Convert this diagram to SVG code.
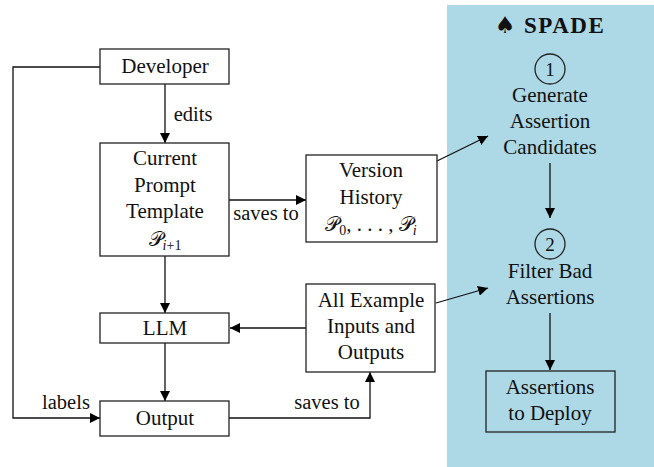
<svg xmlns="http://www.w3.org/2000/svg" width="654" height="467" viewBox="0 0 654 467">
<defs>
<marker id="ah" viewBox="0 0 10 10" refX="10" refY="5" markerWidth="10" markerHeight="10" markerUnits="userSpaceOnUse" orient="auto">
<path d="M0,0 L10,5 L0,10 z" fill="#000"/>
</marker>
<style>
text{font-family:"Liberation Serif","DejaVu Serif",serif;font-size:21px;fill:#111;text-anchor:middle}
.lbl{font-size:20.5px}
.box{fill:#fff;stroke:#222;stroke-width:1.3}
.box2{fill:none;stroke:#222;stroke-width:1.3}
.c{fill:none;stroke:#111;stroke-width:1.3}
.m{font-family:"DejaVu Serif","DejaVu Sans",serif;font-style:normal;font-size:20px}
.sub{font-size:14px;font-style:italic}
</style>
</defs>
<rect x="447" y="5" width="207" height="462" fill="#add8e6"/>
<g id="connectors">
<path class="c" d="M100,67 H13 V418 H100" marker-end="url(#ah)"/>
<path class="c" d="M165,84 V143" marker-end="url(#ah)"/>
<path class="c" d="M165,256 V313" marker-end="url(#ah)"/>
<path class="c" d="M165,343 V401" marker-end="url(#ah)"/>
<path class="c" d="M229,200 H306" marker-end="url(#ah)"/>
<path class="c" d="M306,328 H230" marker-end="url(#ah)"/>
<path class="c" d="M229,418 H370 V372" marker-end="url(#ah)"/>
<path class="c" d="M437,161 L488,136" marker-end="url(#ah)"/>
<path class="c" d="M436,303 L488,288" marker-end="url(#ah)"/>
<path class="c" d="M550,163 V218" marker-end="url(#ah)"/>
<path class="c" d="M550,313 V370" marker-end="url(#ah)"/>
<text class="lbl" x="193" y="121">edits</text>
<text class="lbl" x="266" y="220">saves to</text>
<text class="lbl" x="66" y="409">labels</text>
<text class="lbl" x="327" y="409">saves to</text>
</g>
<g id="developer">
<rect class="box" x="100" y="49" width="129" height="35"/>
<text x="165" y="73">Developer</text>
</g>
<g id="current-prompt">
<rect class="box" x="100" y="143" width="129" height="113"/>
<text x="165" y="165">Current</text>
<text x="165" y="192">Prompt</text>
<text x="165" y="218">Template</text>
<text x="165" y="246"><tspan class="m">𝒫</tspan><tspan class="sub" dy="4">i</tspan><tspan class="sub" style="font-style:normal">+1</tspan></text>
</g>
<g id="version-history">
<rect class="box" x="306" y="155" width="131" height="87"/>
<text x="371" y="177">Version</text>
<text x="371" y="204">History</text>
<text x="371" y="231"><tspan class="m">𝒫</tspan><tspan class="sub" style="font-style:normal" dy="4">0</tspan><tspan dy="-4">, . . . , </tspan><tspan class="m">𝒫</tspan><tspan class="sub" dy="4">i</tspan></text>
</g>
<g id="llm">
<rect class="box" x="100" y="313" width="129" height="30"/>
<text x="165" y="335">LLM</text>
</g>
<g id="output">
<rect class="box" x="100" y="401" width="129" height="35"/>
<text x="165" y="425">Output</text>
</g>
<g id="examples">
<rect class="box" x="306" y="284" width="129" height="88"/>
<text x="371" y="307">All Example</text>
<text x="371" y="333">Inputs and</text>
<text x="371" y="359">Outputs</text>
</g>
<g id="spade-title">
<text x="550" y="33" style="font-weight:bold;font-size:23px;letter-spacing:1.5px"><tspan style="font-family:'DejaVu Sans',sans-serif;font-size:23px">♠</tspan> SPADE</text>
</g>
<g id="generate">
<circle class="box2" cx="550" cy="69" r="15"/>
<text x="550" y="76" style="font-size:19px">1</text>
<text x="550" y="102">Generate</text>
<text x="550" y="128">Assertion</text>
<text x="550" y="154">Candidates</text>
</g>
<g id="filter">
<circle class="box2" cx="550" cy="244" r="15"/>
<text x="550" y="251" style="font-size:19px">2</text>
<text x="550" y="278">Filter Bad</text>
<text x="550" y="304">Assertions</text>
</g>
<g id="deploy">
<rect class="box2" x="486" y="371" width="129" height="61"/>
<text x="550" y="394">Assertions</text>
<text x="550" y="420">to Deploy</text>
</g>
</svg>
